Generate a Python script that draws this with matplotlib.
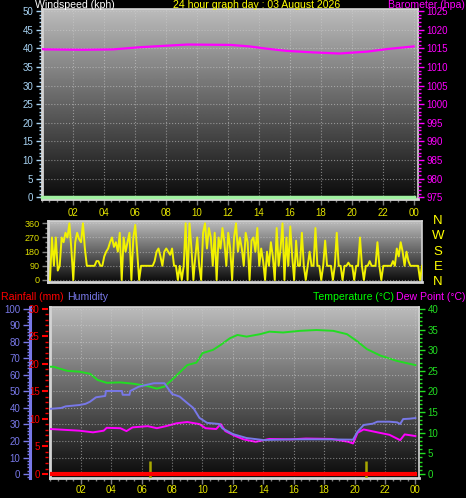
import matplotlib
matplotlib.use("Agg")
import matplotlib.pyplot as plt
from matplotlib.ticker import MultipleLocator, FixedLocator
import numpy as np

plt.rcParams["font.family"] = ["Liberation Sans", "DejaVu Sans"]

W, H = 466, 498

# ── Data ─────────────────────────────────────────────────────────────────────
baro_hours = [0.0, 0.2, 2.7, 4.6, 6.4, 8.1, 9.4, 12.2, 13.4, 14.5, 15.8, 17.5, 19.2, 21.0, 22.3, 24.0]
baro_hpa   = [1014.8, 1014.7, 1014.6, 1014.7, 1015.3, 1015.7, 1016.0, 1015.9, 1015.5, 1014.9,
              1014.3, 1013.9, 1013.6, 1014.1, 1014.8, 1015.5]

wind_hours = [0.0, 24.0]
wind_kph   = [0.0, 0.0]

# wind direction, one reading every 7.5 minutes
wind_dir = [
    0, 270, 90, 270, 60, 90, 270, 240,
    300, 270, 360, 200, 0, 240, 300, 260,
    240, 360, 200, 90, 90, 90, 90, 90,
    120, 120, 90, 90, 150, 180, 200, 240,
    270, 210, 240, 180, 300, 0, 270, 180,
    240, 300, 0, 270, 350, 180, 0, 90,
    90, 90, 90, 90, 90, 90, 120, 180,
    200, 150, 90, 180, 200, 180, 160, 200,
    90, 90, 0, 90, 0, 90, 360, 0,
    360, 200, 0, 150, 270, 90, 0, 300,
    360, 200, 330, 270, 90, 300, 0, 270,
    200, 330, 240, 90, 300, 200, 0, 270,
    360, 180, 270, 200, 90, 300, 240, 0,
    250, 270, 180, 330, 90, 200, 120, 0,
    180, 90, 240, 150, 0, 330, 90, 200,
    360, 0, 270, 90, 340, 150, 0, 250,
    90, 90, 300, 90, 0, 90, 180, 90,
    90, 330, 90, 90, 0, 90, 250, 90,
    90, 90, 0, 90, 300, 90, 90, 0,
    90, 90, 110, 90, 90, 0, 90, 90,
    270, 90, 0, 90, 90, 120, 90, 90,
    90, 240, 90, 0, 90, 90, 90, 90,
    90, 120, 90, 200, 150, 240, 180, 90,
    180, 120, 90, 90, 90, 90, 90, 0,
    90,
]
dir_hours = np.arange(len(wind_dir)) / 8.0

temp_hours = [0.0, 0.2, 1.1, 1.9, 2.6, 3.1, 3.7, 4.6, 5.4, 6.3, 7.0, 7.5, 8.1, 9.0, 9.6, 10.0, 10.7,
              11.2, 11.8, 12.3, 12.9, 13.8, 14.4, 15.3, 16.4, 17.5, 18.6, 19.5, 20.2, 20.8, 21.7,
              22.8, 24.0]
temp_c     = [26.0, 26.0, 25.0, 24.8, 24.3, 22.8, 22.1, 22.2, 21.9, 21.4, 20.7, 21.2, 23.2, 26.4,
              27.0, 29.3, 30.1, 31.3, 32.9, 33.7, 33.3, 33.9, 34.5, 34.3, 34.7, 34.9, 34.7, 33.9,
              32.1, 30.3, 28.7, 27.4, 26.4]

dew_hours = [0.0, 1.9, 2.8, 3.5, 3.7, 4.6, 5.0, 5.4, 6.4, 7.0, 7.6, 8.3, 9.0, 9.8, 10.2, 10.9,
             11.2, 11.5, 12.1, 12.7, 13.5, 14.4, 15.8, 16.8, 18.5, 19.6, 19.9, 20.2, 20.6, 21.5,
             22.3, 23.0, 23.3, 24.0]
dew_c     = [10.9, 10.5, 10.1, 10.5, 11.2, 11.1, 10.4, 11.3, 11.6, 11.1, 11.6, 12.3, 12.6, 12.1,
             11.1, 10.9, 12.1, 10.4, 9.3, 8.4, 7.8, 8.5, 8.4, 8.6, 8.5, 7.8, 7.4, 10.0, 10.8,
             10.1, 9.5, 8.2, 9.6, 9.2]

hum_hours = [0.0, 0.7, 1.0, 1.9, 2.3, 2.6, 3.0, 3.6, 3.65, 4.7, 4.75, 5.2, 5.25, 5.8, 6.3, 6.8,
             7.5, 7.8, 8.0, 8.5, 9.0, 9.4, 9.8, 10.3, 11.1, 11.3, 12.0, 12.9, 14.0, 15.0, 16.0,
             17.0, 18.0, 19.0, 19.9, 20.2, 20.6, 21.2, 21.5, 22.3, 22.8, 23.0, 23.2, 23.6, 24.0]
hum_pct   = [39.5, 40.0, 41.0, 41.8, 42.5, 43.8, 46.5, 47.3, 50.3, 50.3, 48.0, 48.0, 50.3, 52.9,
             54.0, 55.0, 55.0, 51.0, 48.5, 46.9, 43.0, 40.0, 34.0, 31.0, 30.3, 27.7, 24.2, 21.8,
             20.6, 20.8, 21.0, 21.0, 21.0, 20.9, 20.8, 25.7, 29.7, 30.5, 31.7, 31.7, 31.3, 30.3,
             33.3, 33.5, 33.9]

rain_hours = [0.0, 24.0]
rain_mm    = [0.0, 0.0]

event_hours  = [6.55, 20.75]
event_height = 3.2

hour_ticks  = [2, 4, 6, 8, 10, 12, 14, 16, 18, 20, 22, 24]
hour_labels = ["02", "04", "06", "08", "10", "12", "14", "16", "18", "20", "22", "00"]

# ── Colours ───────────────────────────────────────────────────────────────────
XTICK  = "#e4e400"
FRAME  = "#d4d4d4"
GRID   = "#cfcfcf"
MAG    = "#ff00ff"
GREEN  = "#22dd22"
HUMC   = "#7878e8"
RED    = "#ff0000"

GRAD = np.linspace(0.74, 0.04, 256).reshape(-1, 1)
HEAD = 7.6


def box(l, t, r, b):
    return [l / W, 1 - b / H, (r - l) / W, (b - t) / H]


def style_panel(ax):
    ax.set_facecolor("black")
    ax.imshow(GRAD, cmap="gray", vmin=0, vmax=1, aspect="auto",
              extent=[0, 1, 0, 1], transform=ax.transAxes, zorder=0)
    for sp in ax.spines.values():
        sp.set_color(FRAME)
        sp.set_linewidth(1.2)
    ax.spines["left"].set_linewidth(2)
    ax.spines["bottom"].set_linewidth(2)
    ax.tick_params(labelsize=7, length=4, width=1, pad=2)
    ax.tick_params(which="minor", length=2, width=1)


fig = plt.figure(figsize=(W / 100, H / 100), dpi=100, facecolor="black")

# ── Top panel: windspeed / barometer ─────────────────────────────────────────
ax1 = fig.add_axes(box(41.7, 9, 418, 199.2))
style_panel(ax1)
ax1.set_xlim(0, 24.28)
ax1.set_ylim(-0.5, 50.54)
ax1b = ax1.twinx()
ax1.yaxis.tick_left()
ax1.yaxis.set_major_locator(MultipleLocator(5))
ax1.yaxis.set_minor_locator(MultipleLocator(1))
ax1.xaxis.set_major_locator(FixedLocator(hour_ticks))
ax1.xaxis.set_minor_locator(MultipleLocator(0.5))
ax1.set_xticklabels(hour_labels)
ax1.tick_params(axis="y", which="both", colors="#a8d4f4")
ax1.tick_params(axis="x", which="both", colors="#808080", labelcolor=XTICK, pad=2)
ax1.grid(True, color=GRID, ls=":", lw=0.8, alpha=0.55)
ax1.plot(wind_hours, wind_kph, color="#a0f0a0", lw=2.5, zorder=5, clip_on=False)

ax1b.set_ylim(974.5, 1025.54)
ax1b.yaxis.set_major_locator(MultipleLocator(5))
ax1b.yaxis.set_minor_locator(MultipleLocator(1))
ax1b.tick_params(axis="y", colors=MAG, labelsize=7, length=4, width=1, pad=2)
ax1b.tick_params(axis="y", which="minor", colors=MAG, length=2, width=1)
for sp in ax1b.spines.values():
    sp.set_visible(False)
ax1b.plot(baro_hours, baro_hpa, color=MAG, lw=1.6, zorder=4)

fig.text(35 / W, 1 - 8 / H, "Windspeed (kph)", color="white", fontsize=HEAD, va="baseline")
fig.text(257 / W, 1 - 8 / H, "24 hour graph day : 03 August 2026", color="#ffff00",
         fontsize=HEAD, va="baseline", ha="center")
fig.text(465 / W, 1 - 8 / H, "Barometer (hpa)", color=MAG, fontsize=HEAD, va="baseline", ha="right")

# ── Middle panel: wind direction ─────────────────────────────────────────────
ax2 = fig.add_axes(box(48, 221, 422, 282))
style_panel(ax2)
ax2.set_xlim(-0.13, 24.0)
ax2.set_ylim(-12.7, 374.6)
ax2.yaxis.set_major_locator(FixedLocator([0, 90, 180, 270, 360]))
ax2.yaxis.set_minor_locator(MultipleLocator(30))
ax2.xaxis.set_major_locator(FixedLocator(hour_ticks))
ax2.tick_params(axis="y", which="both", colors="#808080", labelcolor="#e0e000", labelsize=6.5)
ax2.tick_params(axis="x", bottom=False, labelbottom=False)
ax2.grid(True, axis="y", color=GRID, ls=":", lw=0.8, alpha=0.55)
ax2.plot(dir_hours, wind_dir, color="#f2f200", lw=1.4, zorder=4)

for ch, yc in zip("NWSEN", [221, 236, 252, 267, 282]):
    fig.text(438 / W, 1 - yc / H, ch, color="#ffff00", fontsize=9.5, ha="center", va="center")

# ── Bottom panel: temperature / dew point / humidity / rain ──────────────────
ax3 = fig.add_axes(box(50, 307, 419, 478))
style_panel(ax3)
ax3.set_xlim(-0.03, 24.24)
ax3.set_ylim(-0.97, 40.48)
ax3h = ax3.twinx()
ax3r = ax3.twinx()
ax3.yaxis.tick_right()
ax3.yaxis.set_major_locator(MultipleLocator(5))
ax3.yaxis.set_minor_locator(MultipleLocator(1))
ax3.xaxis.set_major_locator(FixedLocator(hour_ticks))
ax3.xaxis.set_minor_locator(MultipleLocator(0.5))
ax3.set_xticklabels(hour_labels)
ax3.tick_params(axis="y", which="both", colors=GREEN, left=False, right=True,
                labelleft=False, labelright=True)
ax3.tick_params(axis="x", which="both", colors="#808080", labelcolor=XTICK, pad=1)
ax3.grid(True, axis="x", color=GRID, ls=":", lw=0.8, alpha=0.55)

ax3.plot(temp_hours, temp_c, color=GREEN, lw=1.4, zorder=4)
ax3.plot(dew_hours, dew_c, color=MAG, lw=1.4, zorder=4)
ax3.vlines(event_hours, -0.97, event_height, color="#a8a800", lw=1.8, zorder=3)

ax3h.yaxis.tick_left()
ax3h.set_ylim(-2.42, 101.2)
ax3h.yaxis.set_major_locator(MultipleLocator(10))
ax3h.yaxis.set_minor_locator(MultipleLocator(2))
for sp in ax3h.spines.values():
    sp.set_visible(False)
ax3h.spines["left"].set_visible(True)
ax3h.spines["left"].set_position(("axes", (30 - 50) / 369))
ax3h.spines["left"].set_color(HUMC)
ax3h.spines["left"].set_linewidth(2.2)
ax3h.tick_params(axis="y", which="both", colors=HUMC, labelsize=7, pad=2)
ax3h.tick_params(axis="y", which="major", length=5, width=1)
ax3h.tick_params(axis="y", which="minor", length=2.5, width=1)
ax3h.grid(True, axis="y", color=GRID, ls=":", lw=0.8, alpha=0.55)
ax3h.plot(hum_hours, hum_pct, color=HUMC, lw=1.4, zorder=4)

ax3r.yaxis.tick_left()
ax3r.set_ylim(-0.727, 30.36)
ax3r.yaxis.set_major_locator(MultipleLocator(5))
ax3r.yaxis.set_minor_locator(MultipleLocator(1))
for sp in ax3r.spines.values():
    sp.set_visible(False)
ax3r.spines["left"].set_position(("axes", (48 - 50) / 369))
ax3r.tick_params(axis="y", which="both", colors=RED, labelsize=7, pad=2)
ax3r.tick_params(axis="y", which="major", length=4, width=1.5)
ax3r.tick_params(axis="y", which="minor", length=2, width=1)
ax3r.plot(rain_hours, rain_mm, color=RED, lw=3, zorder=5)

fig.text(1 / W, 1 - 299.5 / H, "Rainfall (mm)", color=RED, fontsize=HEAD, va="baseline")
fig.text(67 / W, 1 - 299.5 / H, "Humidity", color=HUMC, fontsize=HEAD, va="baseline")
fig.text(313 / W, 1 - 299.5 / H, "Temperature (°C)", color="#00ff00", fontsize=HEAD, va="baseline")
fig.text(465 / W, 1 - 299.5 / H, "Dew Point (°C)", color=MAG, fontsize=HEAD, va="baseline", ha="right")

fig.savefig("out.png", dpi=100, facecolor="black")
